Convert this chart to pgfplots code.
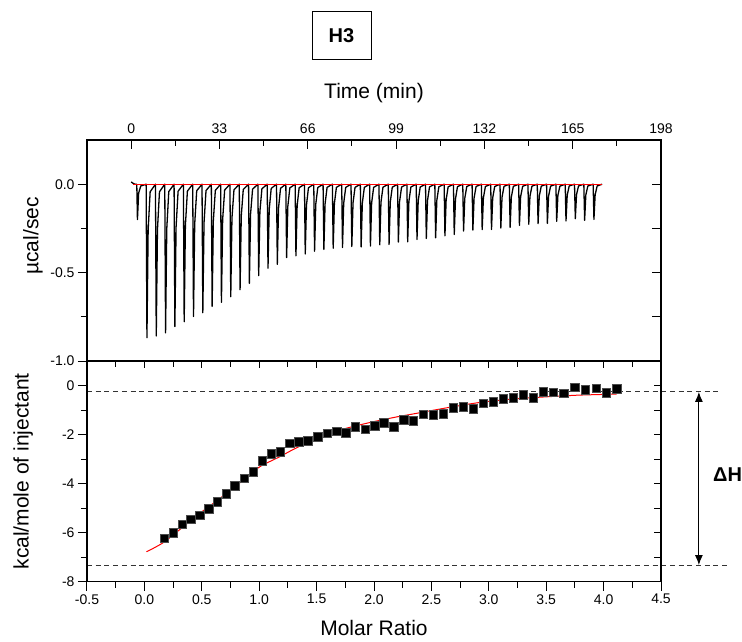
\documentclass[border=0pt]{standalone}
\usepackage{pgfplots}
\pgfplotsset{compat=1.18}
\usepackage{pgfplotstable}
\usepackage{fontspec}
\setmainfont{Liberation Sans}
\usetikzlibrary{arrows.meta}

\pgfplotstableread{
x y
0.172 -6.23
0.250 -6.00
0.329 -5.65
0.404 -5.45
0.480 -5.28
0.558 -5.03
0.634 -4.73
0.712 -4.42
0.788 -4.08
0.869 -3.78
0.947 -3.51
1.026 -3.06
1.104 -2.79
1.183 -2.69
1.264 -2.35
1.343 -2.28
1.424 -2.24
1.511 -2.08
1.592 -1.94
1.674 -1.86
1.755 -1.92
1.836 -1.67
1.923 -1.78
2.005 -1.63
2.086 -1.52
2.173 -1.69
2.259 -1.40
2.341 -1.44
2.428 -1.17
2.516 -1.20
2.603 -1.16
2.690 -0.90
2.777 -0.86
2.864 -0.95
2.951 -0.72
3.038 -0.65
3.126 -0.54
3.213 -0.49
3.300 -0.38
3.387 -0.49
3.475 -0.24
3.562 -0.27
3.655 -0.31
3.748 -0.07
3.840 -0.18
3.934 -0.11
4.021 -0.29
4.114 -0.13
}\heats

\pgfplotstableread{
x y
0.018 -6.78
0.163 -6.41
0.320 -5.83
0.483 -5.21
0.630 -4.70
0.773 -4.19
0.890 -3.74
1.006 -3.31
1.180 -2.90
1.300 -2.60
1.470 -2.22
1.600 -1.97
1.760 -1.74
2.000 -1.47
2.230 -1.25
2.340 -1.16
2.632 -0.91
2.922 -0.69
3.212 -0.55
3.503 -0.46
3.793 -0.39
4.114 -0.35
}\fit

\pgfplotsset{
 common/.style={scale only axis, width=574pt, anchor=south west,
   /pgf/number format/assume math mode=true,
   tick label style={font=\fontsize{14}{16}\selectfont},
   label style={font=\fontsize{21}{24}\selectfont},
   axis line style={line width=1.1pt},
   tick style={black, line width=1pt},
   major tick length=9pt, minor tick length=6pt,
 },
}

\begin{document}
\begin{tikzpicture}
\path[use as bounding box] (0,0) rectangle (742pt,641pt);

% title box
\node[draw, line width=1pt, minimum width=59pt, minimum height=48pt, font=\bfseries\fontsize{20}{24}\selectfont] at (341.5pt,605pt) {H3};

% ---------- top panel: time axis, right ticks, data ----------
\begin{axis}[common, height=221pt, at={(87pt,280pt)},
 xmin=-16.5, xmax=198, ymin=-1, ymax=0.25,
 xtick={0,33,66,99,132,165,198}, minor xtick={16.5,49.5,82.5,115.5,148.5,181.5},
 xtick pos=right, xticklabel pos=right, tick align=inside,
 xticklabel style={yshift=3pt},
 ytick={0,-0.25,-0.5,-0.75,-1}, ytick pos=right, yticklabel pos=right, yticklabels={},
 xlabel={Time (min)}, xlabel style={at={(axis description cs:0.5,1.213)}, anchor=center},
]
\addplot[black, line width=1.3pt, line join=round] coordinates {
(0.0,0.013)(0.8,0.004)(1.5,0.0)(2.1,0.0)(2.35,-0.20)(2.8,-0.05)(3.6,-0.01)
(5.60,0)(5.90,-.868)(6.35,-.260)(7.10,-.043)
(9.08,0)(9.38,-.858)(9.83,-.257)(10.58,-.043)
(12.56,0)(12.86,-.841)(13.31,-.252)(14.06,-.042)
(16.04,0)(16.34,-.805)(16.79,-.242)(17.54,-.040)
(19.52,0)(19.82,-.778)(20.27,-.233)(21.02,-.039)
(23.00,0)(23.30,-.748)(23.75,-.224)(24.50,-.037)
(26.48,0)(26.78,-.727)(27.23,-.218)(27.98,-.036)
(29.96,0)(30.26,-.691)(30.71,-.207)(31.46,-.035)
(33.44,0)(33.74,-.668)(34.19,-.200)(34.94,-.033)
(36.92,0)(37.22,-.636)(37.67,-.191)(38.42,-.032)
(40.40,0)(40.70,-.597)(41.15,-.179)(41.90,-.030)
(43.88,0)(44.18,-.561)(44.63,-.168)(45.38,-.028)
(47.36,0)(47.66,-.517)(48.11,-.155)(48.86,-.026)
(50.84,0)(51.14,-.475)(51.59,-.143)(52.34,-.024)
(54.32,0)(54.62,-.453)(55.07,-.136)(55.82,-.023)
(57.80,0)(58.10,-.415)(58.55,-.125)(59.30,-.021)
(61.28,0)(61.58,-.405)(62.03,-.122)(62.78,-.020)
(64.76,0)(65.06,-.395)(65.51,-.119)(66.26,-.020)
(68.24,0)(68.54,-.379)(68.99,-.114)(69.74,-.019)
(71.72,0)(72.02,-.369)(72.47,-.111)(73.22,-.018)
(75.20,0)(75.50,-.362)(75.95,-.109)(76.70,-.018)
(78.68,0)(78.98,-.358)(79.43,-.107)(80.18,-.018)
(82.16,0)(82.46,-.352)(82.91,-.106)(83.66,-.018)
(85.64,0)(85.94,-.355)(86.39,-.107)(87.14,-.018)
(89.12,0)(89.42,-.350)(89.87,-.105)(90.62,-.018)
(92.60,0)(92.90,-.343)(93.35,-.103)(94.10,-.017)
(96.08,0)(96.38,-.341)(96.83,-.102)(97.58,-.017)
(99.56,0)(99.86,-.327)(100.31,-.098)(101.06,-.016)
(103.04,0)(103.34,-.326)(103.79,-.098)(104.54,-.016)
(106.52,0)(106.82,-.312)(107.27,-.094)(108.02,-.016)
(110.00,0)(110.30,-.307)(110.75,-.092)(111.50,-.015)
(113.48,0)(113.78,-.303)(114.23,-.091)(114.98,-.015)
(116.96,0)(117.26,-.292)(117.71,-.088)(118.46,-.015)
(120.44,0)(120.74,-.284)(121.19,-.085)(121.94,-.014)
(123.92,0)(124.22,-.265)(124.67,-.080)(125.42,-.013)
(127.40,0)(127.70,-.259)(128.15,-.078)(128.90,-.013)
(130.88,0)(131.18,-.257)(131.63,-.077)(132.38,-.013)
(134.36,0)(134.66,-.256)(135.11,-.077)(135.86,-.013)
(137.84,0)(138.14,-.248)(138.59,-.074)(139.34,-.012)
(141.32,0)(141.62,-.244)(142.07,-.073)(142.82,-.012)
(144.80,0)(145.10,-.233)(145.55,-.070)(146.30,-.012)
(148.28,0)(148.58,-.227)(149.03,-.068)(149.78,-.011)
(151.76,0)(152.06,-.223)(152.51,-.067)(153.26,-.011)
(155.24,0)(155.54,-.222)(155.99,-.067)(156.74,-.011)
(158.72,0)(159.02,-.210)(159.47,-.063)(160.22,-.011)
(162.20,0)(162.50,-.208)(162.95,-.062)(163.70,-.010)
(165.68,0)(165.98,-.195)(166.43,-.059)(167.18,-.010)
(169.16,0)(169.46,-.204)(169.91,-.061)(170.66,-.010)
(172.64,0)(172.94,-.199)(173.39,-.060)(174.14,-.010)
(176.0,0.0)
};
\addplot[red, line width=1.3pt] coordinates {(0.8,0) (176,0)};
\end{axis}

% ---------- top panel: left ticks and labels ----------
\begin{axis}[common, height=221pt, at={(87pt,280pt)},
 xmin=-16.5, xmax=198, ymin=-1, ymax=0.25,
 xtick=\empty, ytick={0,-0.5,-1}, minor ytick={-0.25,-0.75},
 ytick pos=left, tick align=outside,
 yticklabel style={/pgf/number format/fixed, /pgf/number format/fixed zerofill, /pgf/number format/precision=1},
 ylabel={µcal/sec}, ylabel style={at={(axis description cs:-0.094,0.566)}, anchor=center},
]
\end{axis}

% ---------- bottom panel: main ----------
\begin{axis}[common, height=220.7pt, at={(87pt,59.3pt)},
 xmin=-0.5, xmax=4.5, ymin=-8, ymax=1, clip=false,
 xtick={-0.5,0,0.5,1,1.5,2,2.5,3,3.5,4,4.5},
 minor xtick={-0.25,0.25,0.75,1.25,1.75,2.25,2.75,3.25,3.75,4.25},
 ytick={0,-2,-4,-6,-8}, minor ytick={-1,-3,-5,-7},
 xtick pos=left, ytick pos=left, tick align=outside,
 xticklabel style={/pgf/number format/fixed, /pgf/number format/fixed zerofill, /pgf/number format/precision=1},
 xlabel={Molar Ratio}, xlabel style={at={(axis description cs:0.5,-0.21)}, anchor=center},
 ylabel={kcal/mole of injectant}, ylabel style={at={(axis description cs:-0.111,0.5)}, anchor=center},
]
\addplot[black!80, line width=0.9pt, dash pattern=on 5pt off 3.7pt] coordinates {(-0.5,-0.26) (5.02,-0.26)};
\addplot[black!80, line width=0.9pt, dash pattern=on 5pt off 3.7pt] coordinates {(-0.5,-7.32) (5.09,-7.32)};
\draw[line width=1pt, {Latex[length=10pt,width=8pt]}-{Latex[length=10pt,width=8pt]}] (axis cs:4.83,-0.26) -- (axis cs:4.83,-7.32);
\node[font=\bfseries\fontsize{20}{24}\selectfont] at (axis cs:5.08,-3.64) {ΔH};
\addplot[only marks, mark=square*, mark size=4.3pt, black, mark options={draw=black!70}] table {\heats};
\addplot[red, line width=1pt, smooth] table {\fit};
\end{axis}

% ---------- bottom panel: top and right inside ticks ----------
\begin{axis}[common, height=220.7pt, at={(87pt,59.3pt)},
 xmin=-0.5, xmax=4.5, ymin=-8, ymax=1,
 xtick={-0.5,0,0.5,1,1.5,2,2.5,3,3.5,4,4.5},
 minor xtick={-0.25,0.25,0.75,1.25,1.75,2.25,2.75,3.25,3.75,4.25},
 ytick={0,-1,-2,-3,-4,-5,-6,-7,-8},
 xtick pos=right, ytick pos=right, xticklabel pos=right, yticklabel pos=right,
 xticklabels={}, yticklabels={}, tick align=inside, major tick length=7pt,
]
\end{axis}
\end{tikzpicture}
\end{document}
